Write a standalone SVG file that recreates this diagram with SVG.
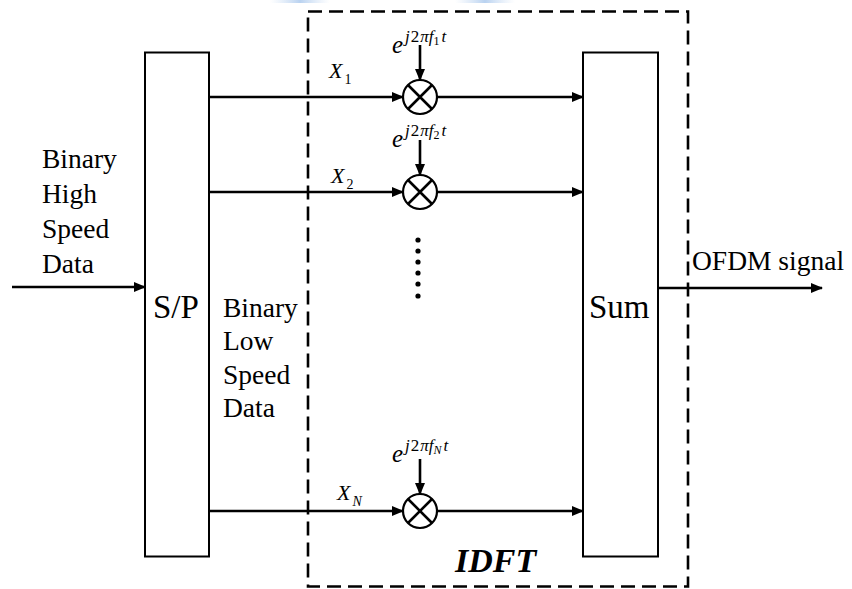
<svg xmlns="http://www.w3.org/2000/svg" width="852" height="589" viewBox="0 0 852 589">
<style>
.box{fill:none;stroke:#000;stroke-width:2}
.dash{fill:none;stroke:#000;stroke-width:2.6;stroke-dasharray:14 7}
.wire{fill:none;stroke:#000;stroke-width:2.6}
.mul{fill:#fff;stroke:#000;stroke-width:2.2}
.t{font-family:"Liberation Serif","Times New Roman","DejaVu Serif",serif;fill:#000}
.lbl{font-size:27.5px}
.big{font-size:33px}
.it{font-style:italic}
</style>
<defs>
<marker id="ah" markerUnits="userSpaceOnUse" markerWidth="12" markerHeight="10" refX="11" refY="5" orient="auto">
<path d="M0,0 L12,5 L0,10 Z" fill="#000"/>
</marker>
<linearGradient id="bl" x1="0" y1="0" x2="1" y2="0">
<stop offset="0" stop-color="#cfe0f5" stop-opacity="0"/>
<stop offset="0.5" stop-color="#b9d2f0"/>
<stop offset="1" stop-color="#cfe0f5" stop-opacity="0"/>
</linearGradient>
</defs>
<rect x="270" y="0" width="60" height="3" fill="url(#bl)"/>
<rect x="455" y="0" width="60" height="3" fill="url(#bl)"/>

<g id="idft">
<rect class="dash" x="308" y="11.5" width="380" height="575"/>
<text class="t it" x="455" y="572" font-size="34" font-weight="bold">IDFT</text>
</g>

<g id="sp">
<rect class="box" x="145" y="52.5" width="64" height="504"/>
<text class="t big" x="153" y="318">S/P</text>
</g>

<g id="sum">
<rect class="box" x="583" y="52.5" width="75" height="504"/>
<text class="t big" x="589" y="318">Sum</text>
</g>

<g id="mult1">
<circle class="mul" cx="420" cy="97" r="17"/>
<path class="wire" d="M408,85 L432,109 M432,85 L408,109" stroke-width="2"/>
</g>
<g id="mult2">
<circle class="mul" cx="420" cy="192" r="17"/>
<path class="wire" d="M408,180 L432,204 M432,180 L408,204" stroke-width="2"/>
</g>
<g id="multN">
<circle class="mul" cx="420" cy="511" r="17"/>
<path class="wire" d="M408,499 L432,523 M432,499 L408,523" stroke-width="2"/>
</g>

<g id="dots" fill="#000">
<circle cx="418" cy="240" r="2.6"/>
<circle cx="418" cy="251" r="2.6"/>
<circle cx="418" cy="262" r="2.6"/>
<circle cx="418" cy="273" r="2.6"/>
<circle cx="418" cy="284" r="2.6"/>
<circle cx="418" cy="296" r="2.6"/>
</g>

<g id="connectors">
<line class="wire" x1="12" y1="287" x2="145" y2="287" marker-end="url(#ah)"/>
<line class="wire" x1="209" y1="97" x2="403" y2="97" marker-end="url(#ah)"/>
<line class="wire" x1="209" y1="192" x2="403" y2="192" marker-end="url(#ah)"/>
<line class="wire" x1="209" y1="511" x2="403" y2="511" marker-end="url(#ah)"/>
<line class="wire" x1="437" y1="97" x2="583" y2="97" marker-end="url(#ah)"/>
<line class="wire" x1="437" y1="192" x2="583" y2="192" marker-end="url(#ah)"/>
<line class="wire" x1="437" y1="511" x2="583" y2="511" marker-end="url(#ah)"/>
<line class="wire" x1="420" y1="45" x2="420" y2="80" marker-end="url(#ah)"/>
<line class="wire" x1="420" y1="140" x2="420" y2="175" marker-end="url(#ah)"/>
<line class="wire" x1="420" y1="459" x2="420" y2="494" marker-end="url(#ah)"/>
<line class="wire" x1="658" y1="288" x2="822" y2="288" marker-end="url(#ah)"/>
</g>

<g id="labels">
<text class="t lbl" x="42"><tspan x="42" y="168">Binary</tspan><tspan x="42" y="203">High</tspan><tspan x="42" y="238">Speed</tspan><tspan x="42" y="273">Data</tspan></text>
<text class="t lbl" x="223"><tspan x="223" y="317">Binary</tspan><tspan x="223" y="350">Low</tspan><tspan x="223" y="384">Speed</tspan><tspan x="223" y="417">Data</tspan></text>
<text class="t lbl" x="692" y="270">OFDM signal</text>

<text class="t it" x="329" y="78" font-size="22">X<tspan font-size="14" font-style="normal" dx="2" dy="6">1</tspan></text>
<text class="t it" x="331" y="183" font-size="22">X<tspan font-size="14" font-style="normal" dx="2" dy="6">2</tspan></text>
<text class="t it" x="337" y="500" font-size="22">X<tspan font-size="14" dx="2" dy="6">N</tspan></text>

<text class="t it" x="392" y="53" font-size="25">e<tspan font-size="17" dx="2" dy="-11">j</tspan><tspan font-size="17" font-style="normal" dx="1">2</tspan><tspan font-size="17" dx="1">πf</tspan><tspan font-size="12" font-style="normal" dy="3">1</tspan><tspan font-size="17" dx="2" dy="-3">t</tspan></text>
<text class="t it" x="392" y="147" font-size="25">e<tspan font-size="17" dx="2" dy="-11">j</tspan><tspan font-size="17" font-style="normal" dx="1">2</tspan><tspan font-size="17" dx="1">πf</tspan><tspan font-size="12" font-style="normal" dy="3">2</tspan><tspan font-size="17" dx="2" dy="-3">t</tspan></text>
<text class="t it" x="392" y="462" font-size="25">e<tspan font-size="17" dx="2" dy="-11">j</tspan><tspan font-size="17" font-style="normal" dx="1">2</tspan><tspan font-size="17" dx="1">πf</tspan><tspan font-size="12" dy="3">N</tspan><tspan font-size="17" dx="2" dy="-3">t</tspan></text>
</g>
</svg>
